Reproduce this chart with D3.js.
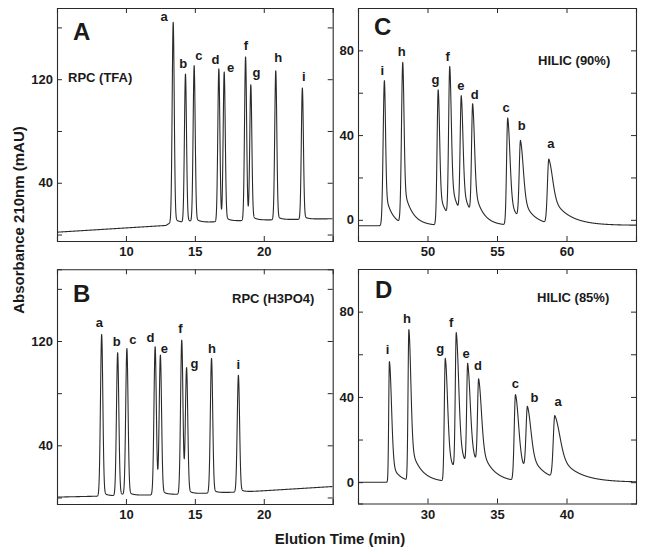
<!DOCTYPE html>
<html><head><meta charset="utf-8">
<script src="https://cdn.jsdelivr.net/npm/d3@7"></script>
<style>
body{margin:0;background:#fff;}
svg text{font-family:"Liberation Sans",Arial,sans-serif;font-weight:bold;fill:#1a1a1a;}
</style></head>
<body><svg id="c" width="645" height="555"></svg>
<script>
// ---------- DATA ----------
// Panel A: RPC (TFA)
const namesA   = ["a","b","c","d","e","f","g","h","i"];
const timeA    = [13.43,14.32,14.95,16.74,17.13,18.68,19.06,20.87,22.80];
const apexA    = [164,124,130.5,128,125.6,137.2,115.7,126.6,113.2];
const sigLA    = [0.075,0.075,0.075,0.075,0.075,0.075,0.075,0.075,0.075];
const sigRA    = [0.075,0.075,0.075,0.075,0.075,0.075,0.075,0.075,0.075];
const tailWA   = [0.03,0.03,0.03,0.03,0.03,0.03,0.03,0.03,0.03];
const tailTA   = [0.3,0.3,0.3,0.3,0.3,0.3,0.3,0.3,0.3];
const baseA    = [[5,1.8],[12.9,7.0],[13.2,9.0],[16,9.6],[19,11],[25,12.2]];
const labTA    = [12.77,14.15,15.29,16.5,17.6,18.7,19.47,21.04,22.9];
const labVA    = [164.9,128.7,134.9,132,125.6,142.9,121.4,133,118.3];

// Panel B: RPC (H3PO4)
const namesB   = ["a","b","c","d","e","f","g","h","i"];
const timeB    = [8.24,9.40,10.07,12.12,12.50,14.05,14.40,16.21,18.16];
const apexB    = [125,111,114.3,115.6,109.2,120.7,99.6,106.7,93.7];
const sigLB    = [0.085,0.085,0.085,0.085,0.085,0.085,0.085,0.085,0.085];
const sigRB    = [0.085,0.085,0.085,0.085,0.085,0.085,0.085,0.085,0.085];
const tailWB   = [0.03,0.03,0.03,0.03,0.03,0.03,0.03,0.03,0.03];
const tailTB   = [0.3,0.3,0.3,0.3,0.3,0.3,0.3,0.3,0.3];
const baseB    = [[5,0.3],[8,1.0],[14,2.5],[19,4.5],[25,8.4]];
const labTB    = [8.07,9.33,10.5,11.79,12.79,13.95,14.98,16.24,18.16];
const labVB    = [131,115.8,118,119.6,110.8,126,99.3,110.8,98.6];

// Panel C: HILIC (90%)
const namesC   = ["i","h","g","f","e","d","c","b","a"];
const timeC    = [46.90,48.22,50.77,51.60,52.43,53.25,55.77,56.69,58.73];
const apexC    = [65.7,74.3,61.4,72.4,58.6,54.8,48.1,37.5,28.7];
const sigLC    = [0.09,0.09,0.08,0.08,0.08,0.08,0.08,0.09,0.10];
const sigRC    = [0.08,0.09,0.10,0.11,0.12,0.13,0.16,0.20,0.27];
const tailWC   = [0.25,0.25,0.27,0.28,0.28,0.30,0.30,0.35,0.50];
const tailTC   = [0.50,0.60,0.60,0.60,0.60,0.60,0.60,0.80,1.20];
const baseC    = [[45,-2.8],[65,-2.6]];
const labTC    = [46.75,48.15,50.58,51.45,52.4,53.4,55.66,56.77,58.87];
const labVC    = [68.5,77.2,64.3,75.1,61.4,57.2,51,42.5,33.9];

// Panel D: HILIC (85%)
const namesD   = ["i","h","g","f","e","d","c","b","a"];
const timeD    = [27.26,28.66,31.28,32.07,32.89,33.68,36.33,37.19,39.16];
const apexD    = [56.6,71.6,58.1,70.2,55.8,48.5,41.1,35.6,31.3];
const sigLD    = [0.05,0.06,0.07,0.07,0.07,0.08,0.09,0.10,0.11];
const sigRD    = [0.15,0.14,0.16,0.17,0.18,0.20,0.22,0.25,0.37];
const tailWD   = [0.20,0.27,0.28,0.28,0.30,0.30,0.33,0.38,0.47];
const tailTD   = [0.55,0.73,0.75,0.75,0.80,0.85,0.90,1.00,1.36];
const baseD    = [[25,0],[45,0]];
const labTD    = [27.12,28.53,30.91,31.7,32.77,33.64,36.33,37.7,39.39];
const labVD    = [60.1,74.7,60.5,72.6,58.1,52.4,44.2,37.7,35.6];

// Axes
const xDomA = [5,25],  xTicksA = [10,15,20];
const xDomB = [5,25],  xTicksB = [10,15,20];
const xDomC = [45,65], xTicksC = [50,55,60];
const xDomD = [25,45], xTicksD = [30,35,40];
const yDomRPC = [-5,175], yTicksRPC = [0,40,80,120,160], yLabRPC = [40,120];
const yDomHIL = [-10,100], yTicksHIL = [0,20,40,60,80], yLabHIL = [0,40,80];
const titles = ["RPC (TFA)","RPC (H3PO4)","HILIC (90%)","HILIC (85%)"];
const letters = ["A","B","C","D"];

// ---------- LAYOUT ----------
const panels = [
  {letter:letters[0], title:titles[0], box:[57,8,332.7,241],   xDom:xDomA, xTicks:xTicksA, yDom:yDomRPC, yTicks:yTicksRPC, yLab:yLabRPC,
   names:namesA, time:timeA, apex:apexA, sL:sigLA, sR:sigRA, tw:tailWA, tt:tailTA, base:baseA, labT:labTA, labV:labVA,
   letterPos:[73,40], titlePos:[68,82]},
  {letter:letters[1], title:titles[1], box:[57,269.3,332.7,504], xDom:xDomB, xTicks:xTicksB, yDom:yDomRPC, yTicks:yTicksRPC, yLab:yLabRPC,
   names:namesB, time:timeB, apex:apexB, sL:sigLB, sR:sigRB, tw:tailWB, tt:tailTB, base:baseB, labT:labTB, labV:labVB,
   letterPos:[73,302], titlePos:[232,303]},
  {letter:letters[2], title:titles[2], box:[358,8,636,241],    xDom:xDomC, xTicks:xTicksC, yDom:yDomHIL, yTicks:yTicksHIL, yLab:yLabHIL,
   names:namesC, time:timeC, apex:apexC, sL:sigLC, sR:sigRC, tw:tailWC, tt:tailTC, base:baseC, labT:labTC, labV:labVC,
   letterPos:[374,35], titlePos:[538,65]},
  {letter:letters[3], title:titles[3], box:[358,269,636,503.5], xDom:xDomD, xTicks:xTicksD, yDom:yDomHIL, yTicks:yTicksHIL, yLab:yLabHIL,
   names:namesD, time:timeD, apex:apexD, sL:sigLD, sR:sigRD, tw:tailWD, tt:tailTD, base:baseD, labT:labTD, labV:labVD,
   letterPos:[375,298], titlePos:[537,302]}
];

const svg = d3.select("#c");
const ink = "#2a2a2a";

function shape(dt, sL, sR, w, tau){
  if (dt <= 0) return Math.exp(-dt*dt/(2*sL*sL));
  return (1-w)*Math.exp(-dt*dt/(2*sR*sR)) + w*Math.exp(-dt/tau);
}

panels.forEach(p => {
  const [x0,y0,x1,y1] = p.box;
  const x = d3.scaleLinear().domain(p.xDom).range([x0,x1]);
  const y = d3.scaleLinear().domain(p.yDom).range([y1,y0]);
  const baseScale = d3.scaleLinear().domain(p.base.map(d=>d[0])).range(p.base.map(d=>d[1])).clamp(true);
  const n = p.time.length;
  // solve peak amplitudes so that the summed trace hits the read apex values
  const amp = p.apex.map((a,k)=>a - baseScale(p.time[k]));
  for (let it=0; it<40; it++){
    for (let k=0;k<n;k++){
      let other = 0;
      for (let j=0;j<n;j++){ if (j===k) continue;
        other += amp[j]*shape(p.time[k]-p.time[j], p.sL[j], p.sR[j], p.tw[j], p.tt[j]); }
      amp[k] = p.apex[k] - baseScale(p.time[k]) - other;
    }
  }
  const signal = t => { let v = baseScale(t);
    for (let j=0;j<n;j++) v += amp[j]*shape(t-p.time[j], p.sL[j], p.sR[j], p.tw[j], p.tt[j]);
    return v; };
  const ts = d3.range(p.xDom[0], p.xDom[1]+1e-9, 0.004);
  const g = svg.append("g");
  g.append("clipPath").attr("id","clip"+p.letter).append("rect")
    .attr("x",x0).attr("y",y0).attr("width",x1-x0).attr("height",y1-y0);
  g.append("path").datum(ts)
    .attr("clip-path","url(#clip"+p.letter+")")
    .attr("fill","none").attr("stroke",ink).attr("stroke-width",1.1).attr("stroke-linejoin","round")
    .attr("d", d3.line().x(t=>x(t)).y(t=>y(signal(t))));

  // axes (inward ticks on all four sides)
  const tl = 5;
  const fmt = v => v;
  g.append("g").attr("transform",`translate(0,${y1})`)
    .call(d3.axisBottom(x).tickValues(p.xTicks).tickSize(-tl).tickPadding(6).tickFormat(fmt));
  g.append("g").attr("transform",`translate(0,${y0})`)
    .call(d3.axisTop(x).tickValues(p.xTicks).tickSize(-tl).tickFormat(""));
  g.append("g").attr("transform",`translate(${x0},0)`)
    .call(d3.axisLeft(y).tickValues(p.yTicks).tickSize(-tl).tickPadding(4)
      .tickFormat(v => p.yLab.includes(v) ? v : ""));
  g.append("g").attr("transform",`translate(${x1},0)`)
    .call(d3.axisRight(y).tickValues(p.yTicks).tickSize(-tl).tickFormat(""));
  g.selectAll(".domain").attr("stroke",ink).attr("stroke-width",1.1);
  g.selectAll(".tick line").attr("stroke",ink).attr("stroke-width",1);
  g.selectAll(".tick text").attr("font-size",13).attr("fill","#1a1a1a")
    .style("font-family",'"Liberation Sans",Arial,sans-serif').style("font-weight","bold");

  // peak labels
  g.selectAll("text.pk").data(p.names).enter().append("text").attr("class","pk")
    .attr("x",(d,i)=>x(p.labT[i])).attr("y",(d,i)=>y(p.labV[i]))
    .attr("text-anchor","middle").attr("font-size",13).text(d=>d);
  // panel letter and title
  g.append("text").attr("x",p.letterPos[0]).attr("y",p.letterPos[1]).attr("font-size",24).text(p.letter);
  g.append("text").attr("x",p.titlePos[0]).attr("y",p.titlePos[1]).attr("font-size",13).text(p.title);
});

svg.append("text").attr("x",340).attr("y",544).attr("text-anchor","middle").attr("font-size",15)
  .text("Elution Time (min)");
svg.append("text").attr("transform","translate(24,220) rotate(-90)").attr("text-anchor","middle").attr("font-size",15)
  .text("Absorbance 210nm (mAU)");
</script></body></html>
